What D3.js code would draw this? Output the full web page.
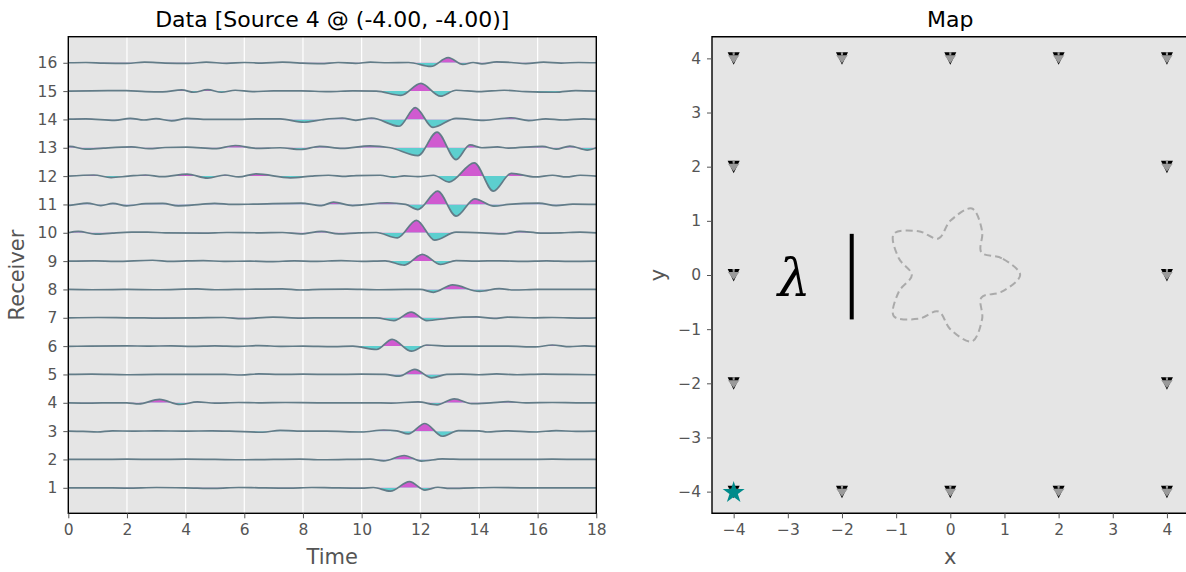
<!DOCTYPE html>
<html>
<head>
<meta charset="utf-8">
<title>Data / Map</title>
<script src="https://d3js.org/d3.v7.min.js"></script>
<style>
    body { margin: 0; background: #fff; }
    svg text { font-family: "DejaVu Sans", sans-serif; }
</style>
</head>
<body>
<div id="chart"></div>
<script>
// ---- data ----
var receivers = [1, 2, 3, 4, 5, 6, 7, 8, 9, 10, 11, 12, 13, 14, 15, 16];
var timeTicks = [0, 2, 4, 6, 8, 10, 12, 14, 16, 18];
var mapTicks = [-4, -3, -2, -1, 0, 1, 2, 3, 4];

// each trace: [time, amplitude in receiver units] at peaks / troughs
var trace1 = [[0,0],[1.0,0.0],[2.0,-0.01],[3.0,0.01],[4.0,0.0],[5.0,-0.02],[5.8,0.01],[6.5,0.0],[7.5,-0.01],[8.3,0.01],[9.0,0.0],[10.0,-0.01],[10.4,0.01],[10.98,-0.12],[11.63,0.22],[12.16,-0.08],[12.6,0.02],[13.0,-0.02],[13.8,0.0],[14.5,0.01],[15.5,0.0],[16.5,0.0],[17.5,0.0],[18,0]];
var trace2 = [[0,0],[1.0,0.0],[2.0,0.01],[3.0,0.0],[4.0,0.01],[5.0,0.0],[6.0,-0.01],[7.0,0.0],[7.9,0.01],[8.5,-0.01],[9.5,0.0],[10.3,0.01],[10.75,-0.05],[11.45,0.14],[12.04,-0.06],[12.75,0.02],[13.5,0.0],[14.5,0.0],[15.5,0.0],[16.5,0.01],[17.5,0.0],[18,0]];
var trace3 = [[0,0],[0.5,-0.01],[0.99,-0.03],[1.5,0.01],[2.2,0.0],[3.0,0.01],[4.0,0.0],[4.9,0.01],[5.5,0.0],[6.63,-0.04],[7.22,0.03],[7.8,0.0],[8.8,0.0],[10.0,-0.03],[10.75,0.04],[11.2,0.01],[11.59,-0.1],[12.16,0.27],[12.75,-0.18],[13.3,0.02],[14.0,0.01],[14.28,-0.03],[14.9,0.01],[15.92,-0.03],[16.63,0.02],[17.3,-0.01],[18,0]];
var trace4 = [[0,0],[0.8,-0.01],[1.5,0.0],[2.0,0.0],[2.4,-0.04],[3.11,0.12],[3.81,-0.06],[4.4,0.03],[5.0,-0.01],[5.8,0.01],[6.5,0.0],[7.4,0.01],[8.5,0.0],[9.5,0.0],[10.3,0.0],[11.0,-0.01],[11.92,0.03],[12.57,-0.07],[13.16,0.14],[13.75,-0.03],[14.4,0.0],[14.98,0.04],[15.6,0.0],[16.5,0.01],[17.4,0.0],[18,0]];
var trace5 = [[0,0],[0.8,0.01],[2.0,-0.01],[3.0,0.0],[4.0,0.0],[5.34,0.0],[5.9,-0.02],[6.5,0.02],[7.2,0.0],[8.0,0.01],[9.0,0.0],[10.0,0.01],[10.8,0.0],[11.28,-0.06],[11.81,0.18],[12.39,-0.12],[12.9,0.0],[13.4,0.01],[14.0,-0.01],[14.6,0.02],[15.3,-0.01],[16.2,0.01],[17.0,0.0],[18,-0.01]];
var trace6 = [[0,-0.01],[0.7,0.0],[1.99,0.01],[2.7,0.0],[3.5,0.01],[4.2,-0.01],[5.0,0.01],[5.8,-0.01],[6.5,0.02],[7.3,-0.01],[8.0,0.0],[9.04,-0.02],[9.7,0.0],[10.51,-0.12],[11.04,0.24],[11.7,-0.18],[12.22,0.04],[13.0,0.0],[14.0,0.0],[15.0,0.0],[15.92,-0.03],[16.5,0.04],[17.1,-0.02],[17.6,0.01],[18,-0.01]];
var trace7 = [[0,0],[1.0,0.01],[2.0,0.0],[3.2,-0.01],[4.4,0.0],[5.3,0.01],[5.93,-0.03],[6.98,0.02],[7.93,-0.01],[9.0,0.0],[10.0,0.0],[10.5,0.0],[11.1,-0.1],[11.69,0.2],[12.22,-0.1],[12.98,-0.01],[13.92,0.03],[14.51,-0.02],[14.98,0.02],[15.9,0.0],[16.5,0.01],[17.6,-0.01],[18,0]];
var trace8 = [[0,0],[0.8,-0.01],[2.0,0.0],[3.0,-0.01],[4.4,0.02],[5.0,-0.01],[5.7,0.0],[7.3,0.02],[7.9,-0.02],[8.6,0.0],[9.5,0.01],[10.5,-0.01],[11.5,0.0],[12.0,0.0],[12.45,-0.1],[13.1,0.16],[14.02,-0.07],[14.69,0.03],[15.2,-0.02],[16.0,0.0],[17.0,0.0],[18,0]];
var trace9 = [[0,0],[0.9,0.01],[1.6,-0.01],[2.87,0.03],[3.5,-0.01],[4.6,0.02],[5.3,-0.01],[6.2,0.0],[6.9,-0.02],[7.7,0.01],[8.4,-0.01],[9.3,0.02],[10.0,-0.01],[10.8,0.01],[11.46,-0.14],[12.07,0.24],[12.69,-0.12],[13.22,0.02],[13.9,0.0],[14.7,0.01],[15.5,-0.01],[16.3,0.01],[17.1,-0.01],[18,0]];
var trace10 = [[0,0.0],[0.34,0.05],[0.93,-0.05],[1.5,-0.01],[2.16,0.02],[2.7,0.02],[3.3,0.0],[4.6,-0.01],[5.4,0.01],[6.5,0.0],[7.3,0.01],[7.93,-0.04],[8.63,0.05],[9.22,-0.04],[9.9,0.0],[10.5,0.01],[11.22,-0.18],[11.87,0.44],[12.49,-0.26],[13.22,0.02],[14.1,0.0],[14.86,-0.04],[15.39,0.05],[16.1,-0.01],[16.8,0.0],[17.45,0.02],[18,0]];
var trace11 = [[0,-0.02],[0.05,-0.03],[0.64,0.05],[1.11,-0.04],[1.52,0.04],[1.99,-0.05],[2.63,0.03],[3.22,0.04],[3.75,-0.05],[4.5,0.0],[4.99,0.04],[5.6,0.0],[6.3,0.01],[7.93,0.05],[8.63,-0.04],[9.04,0.08],[9.69,-0.04],[10.87,0.06],[11.5,0.0],[11.92,-0.18],[12.59,0.47],[13.22,-0.41],[13.86,0.2],[14.51,-0.06],[15.0,0.0],[16.04,0.05],[16.63,-0.04],[17.2,0.01],[18,0]];
var trace12 = [[0,0],[0.87,0.04],[1.46,-0.05],[2.05,0.0],[2.63,0.04],[3.22,-0.02],[4.05,0.07],[4.75,-0.07],[5.34,0.04],[5.81,-0.03],[6.4,0.08],[7.57,-0.06],[8.28,0.0],[8.87,0.03],[9.46,-0.01],[9.81,0.02],[10.63,0.03],[11.1,-0.04],[11.45,0.01],[11.92,-0.02],[12.45,0.03],[12.98,-0.21],[13.84,0.47],[14.49,-0.53],[15.1,0.1],[15.92,-0.03],[16.51,0.03],[16.98,-0.03],[17.45,0.03],[18,0]];
var trace13 = [[0,0.04],[0.05,0.05],[0.58,-0.05],[1.2,-0.01],[2.16,0.03],[2.75,-0.03],[3.3,0.01],[4.05,0.02],[4.99,-0.03],[5.69,0.08],[6.4,-0.02],[7.22,0.0],[7.93,-0.06],[8.57,0.05],[9.34,-0.02],[10.28,0.07],[10.98,0.0],[11.92,-0.28],[12.57,0.55],[13.22,-0.42],[13.69,0.1],[14.1,0.0],[14.63,0.03],[15.0,-0.01],[16.16,0.05],[16.63,-0.05],[17.1,0.06],[17.69,-0.08],[18,0.0]];
var trace14 = [[0,0.01],[0.6,0.02],[1.58,-0.03],[2.11,0.04],[2.58,-0.02],[2.99,0.03],[3.52,-0.05],[4.05,0.04],[4.75,0.0],[5.8,0.0],[6.4,0.02],[7.22,0.02],[8.04,-0.1],[8.63,-0.01],[9.34,0.05],[9.8,-0.03],[10.34,0.05],[11.28,-0.24],[11.83,0.42],[12.43,-0.28],[13.22,0.04],[14.16,-0.03],[15.1,0.06],[15.69,-0.04],[16.28,0.02],[16.86,-0.02],[17.57,0.02],[18,0]];
var trace15 = [[0,0],[0.8,0.01],[1.98,0.02],[2.63,-0.02],[3.22,-0.03],[3.87,0.04],[4.28,-0.04],[4.75,0.05],[5.22,-0.04],[5.69,0.03],[6.28,-0.02],[7.0,0.01],[7.93,0.01],[8.87,-0.02],[9.7,0.01],[10.5,0.0],[11.34,-0.15],[12.02,0.27],[12.69,-0.18],[13.22,0.03],[14.0,-0.02],[14.86,0.03],[15.6,-0.02],[16.6,-0.04],[17.3,0.02],[18,0]];
var trace16 = [[0,0],[0.6,0.01],[1.2,-0.01],[2.0,-0.02],[2.6,0.02],[3.3,-0.01],[4.1,-0.02],[4.7,0.02],[5.4,-0.02],[6.0,0.01],[6.6,-0.01],[7.3,0.02],[7.9,-0.01],[8.6,-0.03],[9.2,0.01],[9.8,-0.02],[10.3,0.02],[10.9,0],[11.6,0.01],[12.36,-0.13],[12.95,0.18],[13.45,-0.06],[13.8,0.01],[14.1,-0.04],[14.6,0.03],[15.1,0.01],[15.6,-0.03],[16.2,0.02],[16.8,-0.01],[17.4,0.01],[18,0]];
var traces = [trace1, trace2, trace3, trace4, trace5, trace6, trace7, trace8,
              trace9, trace10, trace11, trace12, trace13, trace14, trace15, trace16];

// map: receiver positions, source, scatterer outline
var recX = [-4, -2, 0, 2, 4, -4, 4, -4, 4, -4, 4, -4, -2, 0, 2, 4];
var recY = [4, 4, 4, 4, 4, 2, 2, 0, 0, -2, -2, -4, -4, -4, -4, -4];
var sourceX = [-4];
var sourceY = [-4];
var blobX = [1.29, 0.951, 0.574, 0.588, 0.399, 0, -0.219, -0.588, -1.044, -0.951, -0.71, -0.951, -1.044, -0.588, -0.219, 0, 0.399, 0.588, 0.574, 0.951];
var blobY = [0, 0.309, 0.417, 0.809, 1.227, 1, 0.675, 0.809, 0.758, 0.309, 0, -0.309, -0.758, -0.809, -0.675, -1, -1.227, -0.809, -0.417, -0.309];
var barX = [-1.82, -1.82];
var barY = [0.76, -0.82];
var lambdaPos = [-2.88, -0.38];

var W = 1186, H = 572;
var svg = d3.select("#chart").append("svg")
    .attr("width", W).attr("height", H);
var defs = svg.append("defs");

function styleAxis(g) {
    g.select(".domain").remove();
    g.selectAll(".tick line").attr("stroke", "#555").attr("stroke-width", 1);
    g.selectAll(".tick text").attr("fill", "#555").style("font-size", "15.5px");
}

// ---------------- left panel: traces ----------------
var L = {left: 68.3, right: 596.3, top: 36.7, bottom: 513.3};
var x = d3.scaleLinear().domain([0, 18]).range([L.left, L.right]);
var y = d3.scaleLinear().domain([0.1, 16.92]).range([L.bottom, L.top]);

svg.append("rect")
    .attr("x", L.left).attr("y", L.top)
    .attr("width", L.right - L.left).attr("height", L.bottom - L.top)
    .attr("fill", "#e5e5e5");

// vertical white grid
svg.append("g").selectAll("line")
    .data(timeTicks.slice(1, -1))
    .enter().append("line")
    .attr("x1", function(d) { return x(d); }).attr("x2", function(d) { return x(d); })
    .attr("y1", L.top).attr("y2", L.bottom)
    .attr("stroke", "#fff").attr("stroke-width", 1.2);

var wig = svg.append("g");
traces.forEach(function(tr, i) {
    var r = receivers[i];
    var base = y(r);
    // clip regions above / below the baseline
    defs.append("clipPath").attr("id", "up" + r)
        .append("rect").attr("x", L.left).attr("y", L.top)
        .attr("width", L.right - L.left).attr("height", base - L.top);
    defs.append("clipPath").attr("id", "dn" + r)
        .append("rect").attr("x", L.left).attr("y", base)
        .attr("width", L.right - L.left).attr("height", L.bottom - base);

    var area = d3.area()
        .x(function(d) { return x(d[0]); })
        .y0(base)
        .y1(function(d) { return y(r + d[1]); })
        .curve(d3.curveMonotoneX);
    var line = d3.line()
        .x(function(d) { return x(d[0]); })
        .y(function(d) { return y(r + d[1]); })
        .curve(d3.curveMonotoneX);

    wig.append("path").datum(tr)
        .attr("d", area).attr("fill", "#d05ad0")
        .attr("clip-path", "url(#up" + r + ")");
    wig.append("path").datum(tr)
        .attr("d", area).attr("fill", "#5ccfcf")
        .attr("clip-path", "url(#dn" + r + ")");
    wig.append("path").datum(tr)
        .attr("d", line).attr("fill", "none")
        .attr("stroke", "#627c88").attr("stroke-width", 1.7);
});

svg.append("rect")
    .attr("x", L.left).attr("y", L.top)
    .attr("width", L.right - L.left).attr("height", L.bottom - L.top)
    .attr("fill", "none").attr("stroke", "#000").attr("stroke-width", 1.4);

svg.append("g")
    .attr("transform", "translate(0," + L.bottom + ")")
    .call(d3.axisBottom(x).tickValues(timeTicks).tickSize(5).tickPadding(6))
    .call(styleAxis);
svg.append("g")
    .attr("transform", "translate(" + L.left + ",0)")
    .call(d3.axisLeft(y).tickValues(receivers).tickSize(5).tickPadding(6))
    .call(styleAxis);

svg.append("text")
    .attr("x", (L.left + L.right) / 2).attr("y", 27)
    .attr("text-anchor", "middle").style("font-size", "22px").attr("fill", "#000")
    .text("Data [Source 4 @ (-4.00, -4.00)]");
svg.append("text")
    .attr("x", (L.left + L.right) / 2).attr("y", 564)
    .attr("text-anchor", "middle").style("font-size", "21px").attr("fill", "#555")
    .text("Time");
svg.append("text")
    .attr("transform", "translate(24," + (L.top + L.bottom) / 2 + ") rotate(-90)")
    .attr("text-anchor", "middle").style("font-size", "21px").attr("fill", "#555")
    .text("Receiver");

// ---------------- right panel: map ----------------
var R = {left: 712, top: 36.7, bottom: 513.3};
R.right = R.left + (R.bottom - R.top);
var mx = d3.scaleLinear().domain([-4.4, 4.4]).range([R.left, R.right]);
var my = d3.scaleLinear().domain([-4.4, 4.4]).range([R.bottom, R.top]);

svg.append("rect")
    .attr("x", R.left).attr("y", R.top)
    .attr("width", R.right - R.left).attr("height", R.bottom - R.top)
    .attr("fill", "#e5e5e5");

// scatterer outline
svg.append("path")
    .datum(d3.range(blobX.length))
    .attr("d", d3.line()
        .x(function(i) { return mx(blobX[i]); })
        .y(function(i) { return my(blobY[i]); })
        .curve(d3.curveCatmullRomClosed.alpha(0.5)))
    .attr("fill", "none").attr("stroke", "#aaa")
    .attr("stroke-width", 2).attr("stroke-dasharray", "7,4");

// barrier
svg.append("line")
    .attr("x1", mx(barX[0])).attr("x2", mx(barX[1]))
    .attr("y1", my(barY[0])).attr("y2", my(barY[1]))
    .attr("stroke", "#000").attr("stroke-width", 4);

svg.append("text")
    .attr("x", mx(lambdaPos[0])).attr("y", my(lambdaPos[1]))
    .attr("text-anchor", "middle")
    .style("font-family", "'DejaVu Serif', serif").style("font-style", "italic")
    .style("font-size", "52px").attr("fill", "#000")
    .text("λ");

// receivers: black triangle with grey triangle on top
var rec = svg.append("g").selectAll("g")
    .data(d3.range(recX.length))
    .enter().append("g")
    .attr("transform", function(i) { return "translate(" + mx(recX[i]) + "," + my(recY[i]) + ")"; });
rec.append("path").attr("d", "M-6,-6L6,-6L0,6.5Z").attr("fill", "#000");
rec.append("path").attr("d", "M-5.8,-3L5.8,-3L0,4.8Z").attr("fill", "#9a9a9a");
rec.append("path").attr("d", "M-1.2,-6L1.2,-6L0.9,-3L-0.9,-3Z").attr("fill", "#9a9a9a");

// source
svg.append("g").selectAll("path")
    .data(d3.range(sourceX.length))
    .enter().append("path")
    .attr("transform", function(i) { return "translate(" + mx(sourceX[i]) + "," + (my(sourceY[i]) + 1) + ")"; })
    .attr("d", d3.symbol().type(d3.symbolStar).size(150))
    .attr("fill", "#008b8b");

svg.append("path")
    .attr("d", "M" + R.right + "," + R.top + "H" + R.left + "V" + R.bottom + "H" + R.right)
    .attr("fill", "none").attr("stroke", "#000").attr("stroke-width", 1.4);

var mfmt = function(d) { return d < 0 ? "\u2212" + Math.abs(d) : "" + d; };
svg.append("g")
    .attr("transform", "translate(0," + R.bottom + ")")
    .call(d3.axisBottom(mx).tickValues(mapTicks).tickFormat(mfmt).tickSize(5).tickPadding(6))
    .call(styleAxis);
svg.append("g")
    .attr("transform", "translate(" + R.left + ",0)")
    .call(d3.axisLeft(my).tickValues(mapTicks).tickFormat(mfmt).tickSize(5).tickPadding(6))
    .call(styleAxis);

svg.append("text")
    .attr("x", (R.left + R.right) / 2).attr("y", 27)
    .attr("text-anchor", "middle").style("font-size", "22px").attr("fill", "#000")
    .text("Map");
svg.append("text")
    .attr("x", (R.left + R.right) / 2).attr("y", 564)
    .attr("text-anchor", "middle").style("font-size", "21px").attr("fill", "#555")
    .text("x");
svg.append("text")
    .attr("transform", "translate(665," + (R.top + R.bottom) / 2 + ") rotate(-90)")
    .attr("text-anchor", "middle").style("font-size", "21px").attr("fill", "#555")
    .text("y");
</script>
</body>
</html>
